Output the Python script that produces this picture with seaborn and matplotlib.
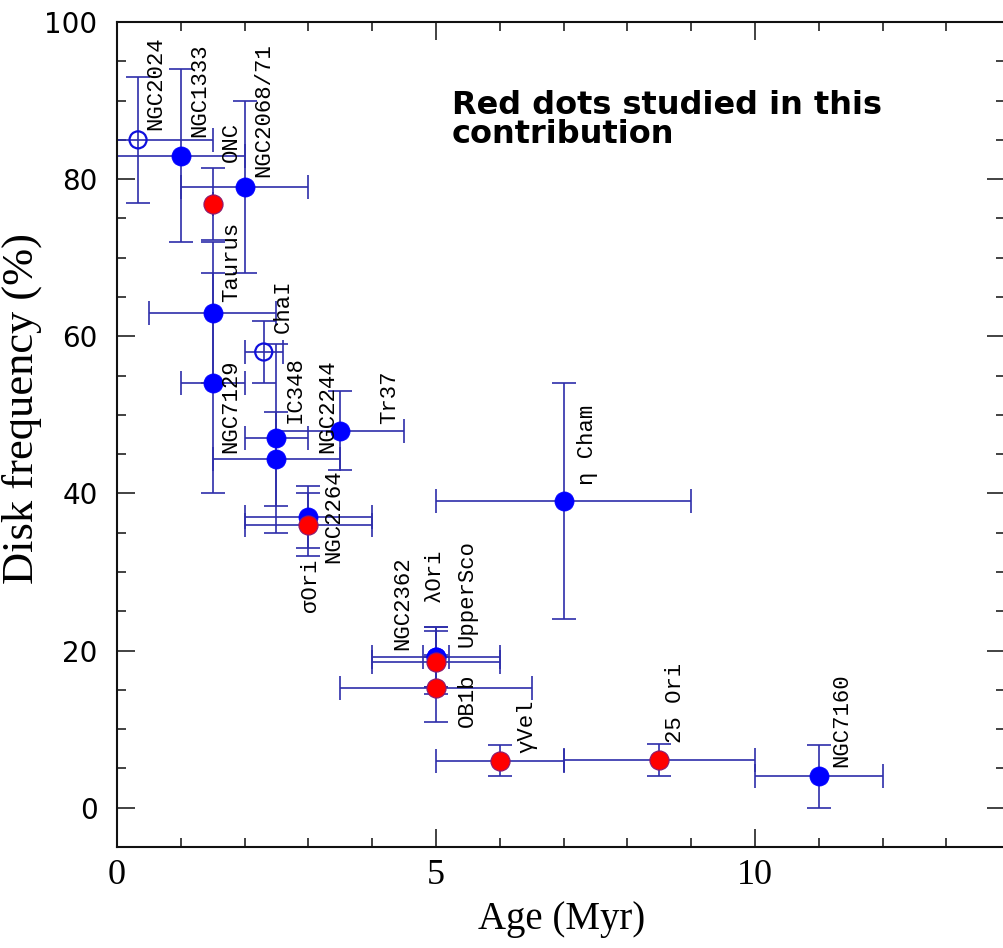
import matplotlib
matplotlib.use("Agg")
import matplotlib.pyplot as plt
import seaborn as sns
import pandas as pd
import numpy as np
from matplotlib.ticker import MultipleLocator

# ---------------- data ----------------
clusters = ["NGC2024", "NGC1333", "ONC", "NGC2068/71", "Taurus", "NGC7129",
            "ChaI", "IC348", "NGC2244", "Tr37", "NGC2264", "σOri",
            "NGC2362", "UpperSco", "λOri", "OB1b", "γVel", "η Cham",
            "25 Ori", "NGC7160"]
kind = ["open", "blue", "red", "blue", "blue", "blue",
        "open", "blue", "blue", "blue", "blue", "red",
        "blue", "blue", "red", "red", "red", "blue",
        "red", "blue"]
age = [0.33, 1.0, 1.5, 2.0, 1.5, 1.5,
       2.3, 2.5, 2.5, 3.5, 3.0, 3.0,
       5.0, 5.0, 5.0, 5.0, 6.0, 7.0,
       8.5, 11.0]
disk_freq = [85, 83, 76.8, 79, 63, 54,
             58, 47, 44.4, 48, 37, 36,
             19.2, 19.2, 18.5, 15.2, 6.0, 39,
             6.1, 4.0]
age_err_lo = [0.5, 1.0, 0.0, 1.0, 1.0, 0.5,
              0.3, 0.5, 1.0, 1.0, 1.0, 1.0,
              1.0, 0.2, 1.0, 1.5, 1.0, 2.0,
              1.5, 1.0]
age_err_hi = [1.17, 1.0, 0.0, 1.0, 1.0, 0.5,
              0.3, 0.5, 1.0, 1.0, 1.0, 1.0,
              1.0, 0.2, 1.0, 1.5, 1.0, 2.0,
              1.5, 1.0]
freq_err = [8, 11, 4.6, 11, 9, 14,
            4, 12, 6, 5, 4, 4,
            3.8, 3.8, 4.0, 4.3, 2.0, 15,
            2.0, 4.0]

# label anchors (data units: centre of rotated text / start of string)
label_x = [0.60, 1.30, 1.79, 2.30, 1.79, 1.79,
           2.60, 2.79, 3.31, 4.28, 3.40, 3.04,
           4.48, 5.49, 4.97, 5.49, 6.43, 7.38,
           8.76, 11.36]
label_y = [86.3, 85.4, 82.2, 80.3, 64.4, 45.1,
           60.4, 49.0, 45.1, 48.9, 31.1, 24.9,
           20.1, 20.5, 26.2, 10.3, 7.0, 41.1,
           8.2, 5.2]

x_ticks = [0, 5, 10]
y_ticks = [0, 20, 40, 60, 80, 100]
note_text = "Red dots studied in this\ncontribution"

df = pd.DataFrame({"cluster": clusters, "kind": kind, "age": age,
                   "freq": disk_freq})

# ---------------- style ----------------
sns.set_theme(style="ticks")
plt.rcParams["font.family"] = ["DejaVu Sans"]
plt.rcParams["text.color"] = "black"
plt.rcParams["axes.labelcolor"] = "black"
plt.rcParams["xtick.color"] = "black"
plt.rcParams["ytick.color"] = "black"

err_color = "#2e2eaa"
blue = "#0000ff"
red = "#ff0000"

fig = plt.figure(figsize=(10.04, 9.48), dpi=100)
fig.patch.set_facecolor("white")
ax = fig.add_axes([117 / 1004, 101 / 948, 888 / 1004, 825 / 948])
ax.set_facecolor("white")

# error bars
ax.errorbar(age, disk_freq,
            xerr=[age_err_lo, age_err_hi], yerr=freq_err,
            fmt="none", ecolor=err_color, elinewidth=1.2,
            capsize=8.6, capthick=1.2, zorder=2)

# open circles
sns.scatterplot(data=df[df.kind == "open"], x="age", y="freq", ax=ax,
                marker="o", s=150, color=blue, edgecolor="#1010dd",
                linewidth=1.6, zorder=3, legend=False)
ax.collections[-1].set_facecolor("none")
# filled blue
sns.scatterplot(data=df[df.kind == "blue"], x="age", y="freq", ax=ax,
                marker="o", s=190, color=blue, edgecolor=blue,
                linewidth=0.5, zorder=4, legend=False)
# red: this contribution
sns.scatterplot(data=df[df.kind == "red"], x="age", y="freq", ax=ax,
                marker="o", s=190, color=red, edgecolor="#8a1a70",
                linewidth=0.8, zorder=5, legend=False)

# cluster labels
for name, lx, ly in zip(clusters, label_x, label_y):
    ax.text(lx, ly, name, rotation=90, ha="center", va="bottom",
            family=["Liberation Mono", "DejaVu Sans Mono"], fontsize=16,
            color="black", zorder=6)

ax.text(5.25, 91.4, note_text, ha="left", va="top",
        family=["DejaVu Sans"], fontweight="bold", fontsize=23,
        linespacing=0.92, color="black", zorder=6)

# axes
ax.set_xlim(0, 888 / 63.8)
ax.set_ylim(-5, 100)
ax.set_xticks(x_ticks)
ax.set_yticks(y_ticks)
ax.xaxis.set_minor_locator(MultipleLocator(1))
ax.yaxis.set_minor_locator(MultipleLocator(5))
ax.tick_params(which="both", direction="in", top=True, right=True,
               color="#222222", width=1.2, labelcolor="black")
ax.tick_params(which="major", length=13)
ax.tick_params(which="minor", length=6.5)
ax.tick_params(axis="y", which="major", pad=14, labelsize=20)
for t in ax.get_yticklabels():
    t.set_family(["DejaVu Sans"])
ax.tick_params(axis="x", which="major", pad=9, labelsize=26)
for t in ax.get_xticklabels():
    t.set_family(["Liberation Serif"])

for sp in ax.spines.values():
    sp.set_visible(True)
    sp.set_color("#111111")
    sp.set_linewidth(1.5)

ax.set_xlabel("Age (Myr)", family=["Liberation Serif"], fontsize=28,
              color="black")
ax.set_ylabel("Disk frequency (%)", family=["Liberation Serif"], fontsize=32,
              color="black")
ax.xaxis.set_label_coords(0.501, -0.066)
ax.yaxis.set_label_coords(-0.084, 0.531)
ax.grid(False)

fig.savefig("out.png", dpi=100, facecolor="white")
